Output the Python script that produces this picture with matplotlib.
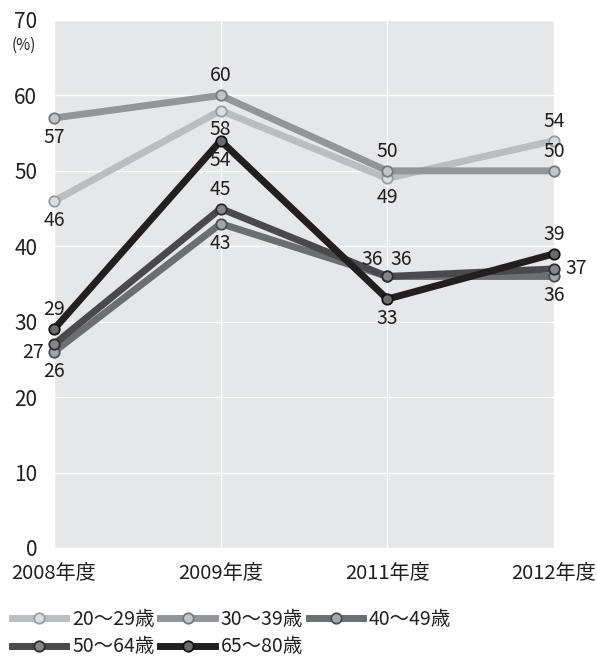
import matplotlib
matplotlib.use("Agg")
import matplotlib.pyplot as plt

plt.rcParams['font.family'] = ['Noto Sans CJK JP', 'DejaVu Sans']

years = ["2008年度", "2009年度", "2011年度", "2012年度"]
groups = ["20〜29歳", "30〜39歳", "40〜49歳", "50〜64歳", "65〜80歳"]
v20 = [46, 58, 49, 54]
v30 = [57, 60, 50, 50]
v40 = [26, 43, 36, 36]
v50 = [27, 45, 36, 37]
v65 = [29, 54, 33, 39]
series = [v20, v30, v40, v50, v65]

colors = ["#bcbdc0", "#949598", "#6d6e71", "#4a4a4c", "#231f20"]
face = ["#dcdddf", "#c3c4c6", "#a4a5a8", "#86868a", "#6b6b6d"]
edges = ["#9a9b9e", "#77787b", "#4e4f52", "#2e2e30", "#111111"]

# label offsets (points) per series, per year
offsets = [
    [(0, -14), (0, -14), (0, -14), (0, 14)],
    [(0, -14), (0, 14), (0, 14), (0, 14)],
    [(0, -14), (0, -14), (-11, 12), (0, -14)],
    [(-15, -6), (0, 14), (10, 12), (16, 0)],
    [(0, 14), (0, -14), (0, -14), (0, 14)],
]

fig = plt.figure(figsize=(5.97, 6.6), dpi=100)
ax = fig.add_axes([54/597, 1-548/660, 500/597, 528/660])
ax.set_facecolor("#e6e7e8")
x = list(range(len(years)))

lines = []
for i, (vals, name) in enumerate(zip(series, groups)):
    ln, = ax.plot(x, vals, color=colors[i], lw=5, marker='o', ms=7.5,
                  mfc=face[i], mec=edges[i], mew=1.3, label=name,
                  solid_joinstyle='miter', zorder=3 + i if i != 2 else 3.5,
                  clip_on=False)
    lines.append(ln)
    for xi, v in zip(x, vals):
        dx, dy = offsets[i][xi]
        ax.annotate(str(v), (xi, v), xytext=(dx, dy), textcoords='offset points',
                    ha='center', va='center', fontsize=14, color="#231f20",
                    zorder=10)

ax.set_xlim(0, 3)
ax.set_ylim(0, 70)
ax.set_yticks(range(0, 71, 10))
ax.set_xticks(x)
ax.set_xticklabels(years, fontsize=14.5, color="#231f20")
ax.tick_params(axis='y', length=0, pad=12, labelsize=15, labelcolor="#231f20")
ax.tick_params(axis='x', length=0, pad=11)
ax.grid(True, color="white", lw=1)
ax.set_axisbelow(True)
for s in ax.spines.values():
    s.set_visible(False)

fig.text(24/597, 1-45/660, "(%)", fontsize=11, ha='center', va='center', color="#231f20")

# row-major legend order for a 3-column layout
order = [0, 3, 1, 4, 2]
leg = ax.legend([lines[k] for k in order], [groups[k] for k in order],
                loc='upper left', bbox_to_anchor=(-50/500, -0.100), ncol=3,
                frameon=False, fontsize=14, handlelength=2.8, handletextpad=0.3,
                columnspacing=0.3, labelspacing=0.35, borderaxespad=0)
for t in leg.get_texts():
    t.set_color("#231f20")

fig.savefig("out.png", dpi=100)
